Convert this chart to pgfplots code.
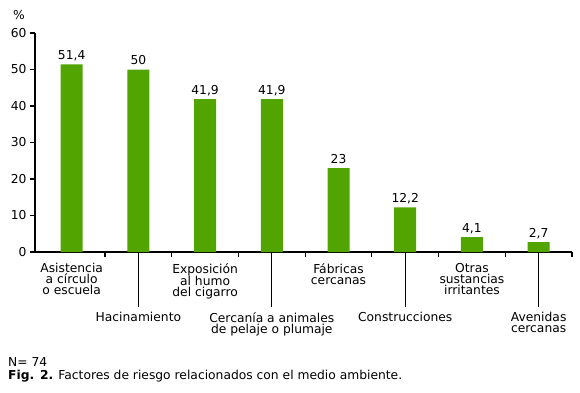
\documentclass[border=0pt]{standalone}
\usepackage{pgfplots}
\pgfplotsset{compat=1.18}
\usepackage{fontspec}
\setmainfont{DejaVu Sans}
\definecolor{bargreen}{RGB}{82,165,0}
\begin{document}
\begin{tikzpicture}[x=1pt,y=1pt]
\tikzset{lab/.style={align=center, inner sep=0pt, anchor=north, font=\fontsize{12.3}{11}\selectfont}}
\begin{axis}[
 scale only axis, width=537pt, height=219pt,
 at={(0pt,0pt)}, anchor=south west,
 xmin=-0.55, xmax=7.5, ymin=0, ymax=60,
 axis x line*=bottom, axis y line*=left,
 axis line style={line width=1.5pt},
 xtick={0.5,1.5,...,7.5}, xticklabels={},
 ytick={0,10,...,60},
 major tick length=5pt,
 tick align=outside,
 tick style={black, line width=1.2pt},
 ticklabel style={font=\fontsize{12.3}{12}\selectfont},
 /pgf/number format/assume math mode=true,
 ybar, bar width=22pt,
 nodes near coords={\pgfmathprintnumber[use comma]{\pgfplotspointmeta}},
 every node near coord/.append style={anchor=base, yshift=5pt, font=\fontsize{12.3}{12}\selectfont, text=black},
 clip=false,
]
\addplot[fill=bargreen, draw=none] coordinates {(0,51.4)(1,50)(2,41.9)(3,41.9)(4,23)(5,12.2)(6,4.1)(7,2.7)};
\node[lab, yshift=-11pt] at (axis cs:0,0) {Asistencia\\a círculo\\o escuela};
\node[lab, yshift=-11pt] at (axis cs:2,0) {Exposición\\al humo\\del cigarro};
\node[lab, yshift=-11pt] at (axis cs:4,0) {Fábricas\\cercanas};
\node[lab, yshift=-11pt] at (axis cs:6,0) {Otras\\sustancias\\irritantes};
\draw[line width=1pt] (axis cs:1,0) -- ([yshift=-55pt]axis cs:1,0);
\draw[line width=1pt] (axis cs:3,0) -- ([yshift=-55pt]axis cs:3,0);
\draw[line width=1pt] (axis cs:5,0) -- ([yshift=-55pt]axis cs:5,0);
\draw[line width=1pt] (axis cs:7,0) -- ([yshift=-55pt]axis cs:7,0);
\node[lab, yshift=-60pt] at (axis cs:1,0) {Hacinamiento};
\node[lab, yshift=-60pt] at (axis cs:3,0) {Cercanía a animales\\de pelaje o plumaje};
\node[lab, yshift=-60pt] at (axis cs:5,0) {Construcciones};
\node[lab, yshift=-60pt] at (axis cs:7,0) {Avenidas\\cercanas};
\end{axis}
\node[font=\fontsize{12.3}{12}\selectfont] at (-16pt,237pt) {\%};
\node[anchor=base west, inner sep=0pt, font=\fontsize{12.3}{12}\selectfont] at (-27pt,-114pt) {N= 74};
\node[anchor=base west, inner sep=0pt, font=\fontsize{12.3}{12}\selectfont] at (-27pt,-127pt) {\textbf{Fig. 2.} Factores de riesgo relacionados con el medio ambiente.};
\pgfresetboundingbox
\path[use as bounding box] (-35pt,-140pt) rectangle (545pt,252pt);
\end{tikzpicture}
\end{document}
